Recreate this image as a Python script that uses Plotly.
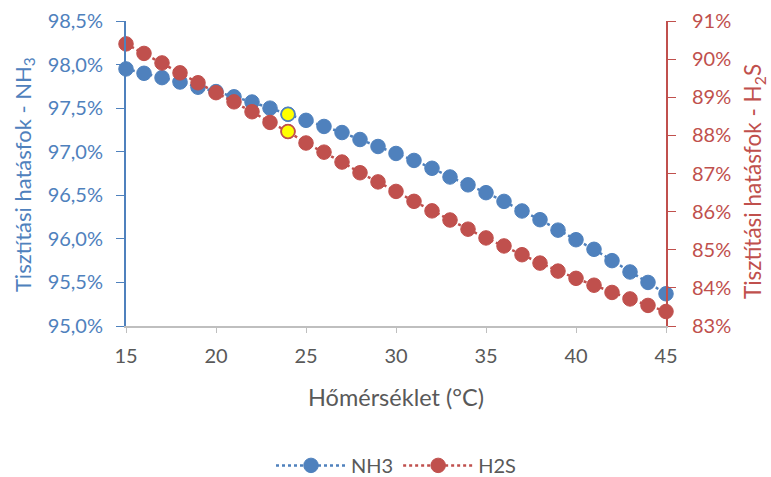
import plotly.graph_objects as go

temps = list(range(15, 46))
nh3 = [97.95, 97.90, 97.85, 97.80, 97.74, 97.69, 97.63, 97.57, 97.50, 97.43,
       97.36, 97.29, 97.22, 97.14, 97.06, 96.98, 96.90, 96.81, 96.71, 96.62,
       96.53, 96.43, 96.32, 96.22, 96.10, 95.99, 95.88, 95.75, 95.62, 95.50, 95.37]
h2s = [90.40, 90.15, 89.90, 89.64, 89.38, 89.12, 88.88, 88.62, 88.34, 88.10,
       87.80, 87.56, 87.30, 87.02, 86.78, 86.53, 86.27, 86.02, 85.78, 85.54,
       85.31, 85.10, 84.87, 84.65, 84.44, 84.25, 84.07, 83.88, 83.71, 83.54, 83.38]
highlight_temp = 24
left_ticks = [95.0, 95.5, 96.0, 96.5, 97.0, 97.5, 98.0, 98.5]
right_ticks = [83, 84, 85, 86, 87, 88, 89, 90, 91]
x_ticks = [15, 20, 25, 30, 35, 40, 45]
left_labels = [f"{v:.1f}%".replace(".", ",") for v in left_ticks]
right_labels = [f"{v}%" for v in right_ticks]

BLUE = "#4F81BD"
RED = "#C0504D"
GRAY = "#595959"
FONT = "Lato"

hi = temps.index(highlight_temp)

fig = go.Figure()
fig.add_trace(go.Scatter(
    x=temps, y=nh3, name="NH3", mode="lines+markers", yaxis="y",
    line=dict(color=BLUE, width=2.5, dash="dot"),
    marker=dict(symbol="circle", size=14.5, color=BLUE, line=dict(color=BLUE, width=1)),
    cliponaxis=False))
fig.add_trace(go.Scatter(
    x=[temps[hi]], y=[nh3[hi]], mode="markers", yaxis="y", showlegend=False,
    marker=dict(symbol="circle", size=13.5, color="#FFFF00", line=dict(color=BLUE, width=1.5)),
    cliponaxis=False))
fig.add_trace(go.Scatter(
    x=temps, y=h2s, name="H2S", mode="lines+markers", yaxis="y2",
    line=dict(color=RED, width=2.5, dash="dot"),
    marker=dict(symbol="circle", size=14.5, color=RED, line=dict(color=RED, width=1)),
    cliponaxis=False))
fig.add_trace(go.Scatter(
    x=[temps[hi]], y=[h2s[hi]], mode="markers", yaxis="y2", showlegend=False,
    marker=dict(symbol="circle", size=13.5, color="#FFFF00", line=dict(color=RED, width=1.5)),
    cliponaxis=False))

fig.update_layout(
    width=771, height=477,
    margin=dict(l=126, r=105, t=21, b=151, autoexpand=False),
    paper_bgcolor="white", plot_bgcolor="white",
    font=dict(family=FONT, size=20, color=GRAY),
    xaxis=dict(
        range=[15, 45], tickvals=x_ticks, showgrid=False, zeroline=False,
        showline=True, linecolor="#BFBFBF", linewidth=1.5,
        ticks="outside", ticklen=5, tickcolor="#BFBFBF", ticklabelstandoff=6,
        tickfont=dict(family=FONT, size=20, color=GRAY)),
    yaxis=dict(
        range=[95, 98.5], tickvals=left_ticks, ticktext=left_labels,
        showgrid=False, zeroline=False, showline=True, linecolor=BLUE, linewidth=2,
        ticks="outside", ticklen=8, tickcolor=BLUE, ticklabelstandoff=9,
        tickfont=dict(family=FONT, size=20, color=BLUE)),
    yaxis2=dict(
        range=[83, 91], tickvals=right_ticks, ticktext=right_labels,
        overlaying="y", side="right",
        showgrid=False, zeroline=False, showline=True, linecolor=RED, linewidth=2,
        ticks="outside", ticklen=8, tickcolor=RED, ticklabelstandoff=12,
        tickfont=dict(family=FONT, size=20, color=RED)),
    legend=dict(orientation="h", x=0.5, xanchor="center", y=-0.457, yanchor="middle",
                font=dict(family=FONT, size=20, color=GRAY), itemwidth=70,
                tracegroupgap=10),
    showlegend=True,
    annotations=[
        dict(text="Tisztítási hatásfok - NH<sub>3</sub>", textangle=-90,
             xref="paper", yref="paper", x=-0.189, y=0.498,
             xanchor="center", yanchor="middle", showarrow=False,
             font=dict(family=FONT, size=22, color=BLUE)),
        dict(text="Tisztítási hatásfok - H<sub>2</sub>S", textangle=-90,
             xref="paper", yref="paper", x=1.163, y=0.472,
             xanchor="center", yanchor="middle", showarrow=False,
             font=dict(family=FONT, size=22.5, color=RED)),
        dict(text="Hőmérséklet (°C)",
             xref="paper", yref="paper", x=0.5, y=-0.233,
             xanchor="center", yanchor="middle", showarrow=False,
             font=dict(family=FONT, size=23.5, color=GRAY)),
    ],
)

fig.write_html("out.html")
